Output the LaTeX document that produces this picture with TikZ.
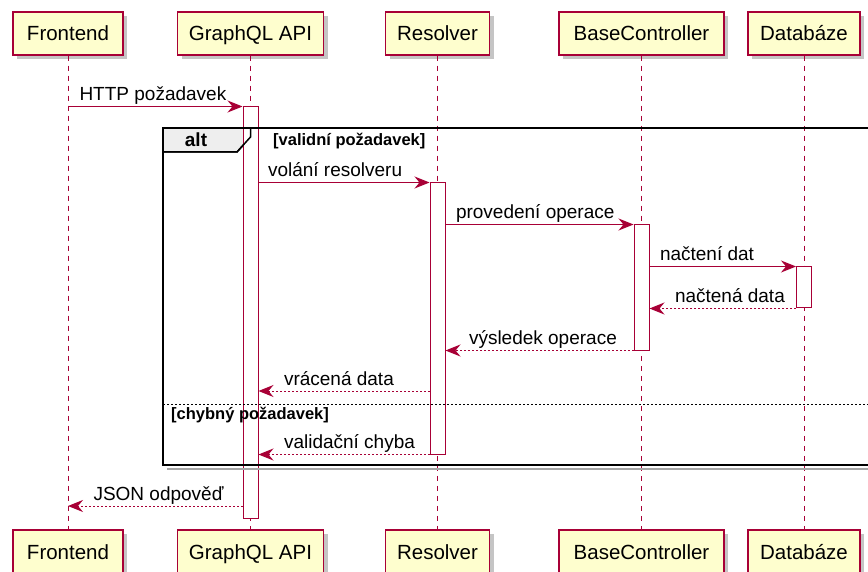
\documentclass[tikz,border=0pt]{standalone}
\usepackage{fontspec}
\setmainfont{Liberation Sans}
\usetikzlibrary{arrows.meta,shadows}
\definecolor{umlred}{HTML}{A80036}
\definecolor{umlfill}{HTML}{FEFECE}
\definecolor{umltab}{HTML}{EEEEEE}
\begin{document}
\begin{tikzpicture}[x=1pt,y=-1pt,line cap=butt,line join=miter]
 \tikzset{part/.style={draw=umlred,fill=umlfill,line width=1.5pt,minimum height=43pt,inner sep=0pt,
   text height=15pt,text depth=0pt,font=\fontsize{20.5}{24}\selectfont,
   drop shadow={shadow xshift=4pt,shadow yshift=-4pt,fill=black!45}},
 life/.style={umlred,line width=1pt,dash pattern=on 5pt off 5pt},
 act/.style={draw=umlred,fill=white,line width=1pt,minimum width=15pt,inner sep=0pt},
 msg/.style={umlred,line width=1pt,-{Stealth[length=15pt,width=12pt,inset=5pt]}},
 ret/.style={msg,dash pattern=on 2pt off 2pt},
 lbl/.style={anchor=base west,inner sep=0pt,text=black,font=\fontsize{19}{22}\selectfont},
 guard/.style={anchor=base west,inner sep=0pt,font=\fontsize{16.5}{19}\selectfont\bfseries}
 }
 \useasboundingbox (0,0) rectangle (868,572);
 % alt tab
 \filldraw[fill=umltab,line width=1.5pt] (163,128) -- (250.5,128) -- (250.5,137) -- (237,152) -- (163,152) -- cycle;
 \node[anchor=base,inner sep=0pt,font=\fontsize{19}{22}\selectfont\bfseries] (alt) at (196,147) {alt};
 % participants
 \node[part,minimum width=110pt] (fe) at (68,33.5) {Frontend};
 \node[part,minimum width=146pt] (api) at (250.5,33.5) {GraphQL API};
 \node[part,minimum width=104pt] (res) at (437.5,33.5) {Resolver};
 \node[part,minimum width=165pt] (bc) at (641.5,33.5) {BaseController};
 \node[part,minimum width=112pt] (db) at (804,33.5) {Databáze};
 \node[part,minimum width=110pt] (feb) at (68,551.5) {Frontend};
 \node[part,minimum width=146pt] (apib) at (250.5,551.5) {GraphQL API};
 \node[part,minimum width=104pt] (resb) at (437.5,551.5) {Resolver};
 \node[part,minimum width=165pt] (bcb) at (641.5,551.5) {BaseController};
 \node[part,minimum width=112pt] (dbb) at (804,551.5) {Databáze};
 \draw[life] (fe.south) -- (feb.north) (api.south) -- (apib.north) (res.south) -- (resb.north)
  (bc.south) -- (bcb.north) (db.south) -- (dbb.north);
 % activations
 \node[act,minimum height=411pt] (actG) at (250.5,312.5) {};
 \node[act,minimum height=271pt] (actR) at (437.5,318.5) {};
 \node[act,minimum height=125pt] (actB) at (641.5,287.5) {};
 \node[act,minimum height=41pt] (actD) at (804,287.5) {};
 % alt frame
 \draw[black!35,line width=2pt] (167,469) -- (884,469);
 \draw[line width=2pt] (163,128) rectangle (884,465);
 \draw[line width=1.5pt] (163,152) -- (237,152) -- (250.5,137) -- (250.5,128);
 \node[guard] (g1) at (273,146) {[validní požadavek]};
 \draw[line width=1pt,dash pattern=on 2pt off 2pt] (163,404) -- (884,404);
 \node[guard] (g2) at (171,419) {[chybný požadavek]};
 \coordinate (y7) at (0,391);
 \coordinate (y9) at (0,506);
 % messages
 \draw[msg] (fe.south |- actG.north) -- (actG.north west) node[lbl,pos=0,xshift=11pt,yshift=6pt] (l1) {HTTP požadavek};
 \draw[msg] (actG.east |- actR.north) -- (actR.north west) node[lbl,pos=0,xshift=9pt,yshift=6pt] (l2) {volání resolveru};
 \draw[msg] (actR.east |- actB.north) -- (actB.north west) node[lbl,pos=0,xshift=10pt,yshift=6pt] (l3) {provedení operace};
 \draw[msg] (actB.east |- actD.north) -- (actD.north west) node[lbl,pos=0,xshift=10pt,yshift=6pt] (l4) {načtení dat};
 \draw[ret] (actD.south west) -- (actB.east |- actD.south) node[lbl,pos=1,xshift=25pt,yshift=6pt] (l5) {načtená data};
 \draw[ret] (actB.south west) -- (actR.east |- actB.south) node[lbl,pos=1,xshift=23pt,yshift=6pt] (l6) {výsledek operace};
 \draw[ret] (actR.west |- y7) -- (actG.east |- y7) node[lbl,pos=1,xshift=25pt,yshift=6pt] (l7) {vrácená data};
 \draw[ret] (actR.south west) -- (actG.east |- actR.south) node[lbl,pos=1,xshift=25pt,yshift=6pt] (l8) {validační chyba};
 \draw[ret] (actG.west |- y9) -- (fe.south |- y9) node[lbl,pos=1,xshift=25pt,yshift=6pt] (l9) {JSON odpověď};
\end{tikzpicture}
\end{document}
